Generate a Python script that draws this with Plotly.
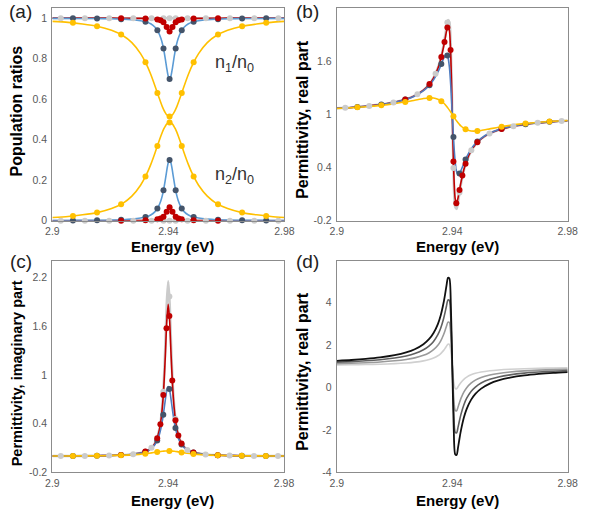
import plotly.graph_objects as go

# ---------------- energy grids (eV) ----------------
E_line = [2.9000, 2.9050, 2.9100, 2.9150, 2.9200, 2.9240, 2.9270, 2.9300, 2.9320, 2.9335,
          2.9350, 2.9360, 2.9370, 2.9375, 2.9380, 2.9385, 2.9390, 2.9395, 2.9400, 2.9405,
          2.9410, 2.9415, 2.9420, 2.9425, 2.9430, 2.9440, 2.9450, 2.9465, 2.9480, 2.9500,
          2.9530, 2.9560, 2.9600, 2.9650, 2.9700, 2.9750, 2.9800]
E_line_a = [2.9000, 2.9054, 2.9104, 2.9154, 2.9204, 2.9244, 2.9274, 2.9304, 2.9324, 2.9339,
            2.9354, 2.9364, 2.9374, 2.9379, 2.9384, 2.9389, 2.9394, 2.9399, 2.9404, 2.9409,
            2.9414, 2.9419, 2.9424, 2.9429, 2.9434, 2.9444, 2.9454, 2.9469, 2.9484, 2.9504,
            2.9534, 2.9564, 2.9604, 2.9654, 2.9704, 2.9754, 2.9800]
E_gray_edges = [2.9000, 2.9800]

E_dark = [2.9071, 2.9154, 2.9237, 2.9321, 2.9362, 2.9383, 2.9404, 2.9425, 2.9446, 2.9487, 2.9571, 2.9654, 2.9737]
E_red = [2.9237, 2.9321, 2.9362, 2.9373, 2.9383, 2.9394, 2.9404, 2.9414, 2.9425, 2.9435, 2.9446, 2.9487, 2.9571]
E_gray = [2.9029, 2.9112, 2.9196, 2.9279, 2.9342, 2.9383, 2.9404, 2.9425, 2.9466, 2.9529, 2.9612, 2.9696, 2.9779]
E_yel = [2.9071, 2.9154, 2.9237, 2.9321, 2.9362, 2.9404, 2.9446, 2.9487, 2.9571, 2.9654, 2.9737]

# ---------------- panel (a): population ratios ----------------
gray_a_up = [1.0, 1.0]
gray_a_lo = [0.0, 0.0]
yel_a_up = [0.984, 0.979, 0.971, 0.960, 0.940, 0.913, 0.879, 0.825, 0.773, 0.723, 0.664, 0.622, 0.582, 0.563, 0.547, 0.534, 0.523, 0.517, 0.515,
            0.517, 0.523, 0.534, 0.547, 0.563, 0.582, 0.622, 0.664, 0.723, 0.773, 0.825, 0.879, 0.913, 0.940, 0.960, 0.971, 0.979, 0.984]
yel_a_lo = [0.016, 0.021, 0.029, 0.040, 0.060, 0.087, 0.121, 0.175, 0.227, 0.277, 0.336, 0.378, 0.418, 0.437, 0.453, 0.466, 0.477, 0.483, 0.485,
            0.483, 0.477, 0.466, 0.453, 0.437, 0.418, 0.378, 0.336, 0.277, 0.227, 0.175, 0.121, 0.087, 0.060, 0.040, 0.029, 0.021, 0.016]
blue_a_up = [0.999, 0.999, 0.998, 0.998, 0.997, 0.995, 0.992, 0.987, 0.981, 0.972, 0.955, 0.935, 0.901, 0.876, 0.843, 0.801, 0.755, 0.716, 0.700,
             0.716, 0.755, 0.801, 0.843, 0.876, 0.901, 0.935, 0.955, 0.972, 0.981, 0.987, 0.992, 0.995, 0.997, 0.998, 0.998, 0.999, 0.999]
blue_a_lo = [0.001, 0.001, 0.002, 0.002, 0.003, 0.005, 0.008, 0.013, 0.019, 0.028, 0.045, 0.065, 0.099, 0.124, 0.157, 0.199, 0.245, 0.284, 0.300,
             0.284, 0.245, 0.199, 0.157, 0.124, 0.099, 0.065, 0.045, 0.028, 0.019, 0.013, 0.008, 0.005, 0.003, 0.002, 0.002, 0.001, 0.001]
red_a_up = [1.000, 1.000, 1.000, 1.000, 1.000, 0.999, 0.999, 0.999, 0.998, 0.997, 0.995, 0.993, 0.988, 0.984, 0.978, 0.969, 0.956, 0.941, 0.934,
            0.941, 0.956, 0.969, 0.978, 0.984, 0.988, 0.993, 0.995, 0.997, 0.998, 0.999, 0.999, 0.999, 1.000, 1.000, 1.000, 1.000, 1.000]
red_a_lo = [0.000, 0.000, 0.000, 0.000, 0.000, 0.001, 0.001, 0.001, 0.002, 0.003, 0.005, 0.007, 0.012, 0.016, 0.022, 0.031, 0.044, 0.059, 0.066,
            0.059, 0.044, 0.031, 0.022, 0.016, 0.012, 0.007, 0.005, 0.003, 0.002, 0.001, 0.001, 0.001, 0.000, 0.000, 0.000, 0.000, 0.000]

gray_mk_a_up = [1, 1, 1, 1, 1, 1, 1, 1, 1, 1, 1, 1, 1]
gray_mk_a_lo = [0, 0, 0, 0, 0, 0, 0, 0, 0, 0, 0, 0, 0]
blue_mk_a_up = [0.999, 0.998, 0.995, 0.982, 0.940, 0.850, 0.700, 0.850, 0.940, 0.982, 0.995, 0.998, 0.999]
blue_mk_a_lo = [0.001, 0.002, 0.005, 0.018, 0.060, 0.150, 0.300, 0.150, 0.060, 0.018, 0.005, 0.002, 0.001]
red_mk_a_up = [1.000, 0.998, 0.993, 0.989, 0.980, 0.956, 0.934, 0.956, 0.980, 0.989, 0.993, 0.998, 1.000]
red_mk_a_lo = [0.000, 0.002, 0.007, 0.011, 0.020, 0.044, 0.066, 0.044, 0.020, 0.011, 0.007, 0.002, 0.000]
yel_mk_a_up = [0.977, 0.960, 0.919, 0.782, 0.631, 0.515, 0.631, 0.782, 0.919, 0.960, 0.977]
yel_mk_a_lo = [0.023, 0.040, 0.081, 0.218, 0.369, 0.485, 0.369, 0.218, 0.081, 0.040, 0.023]

# ---------------- panel (b): permittivity, real part ----------------
gray_b = [1.070, 1.080, 1.093, 1.112, 1.139, 1.174, 1.213, 1.275, 1.341, 1.414, 1.525, 1.633, 1.786, 1.882, 1.984, 2.066, 2.041, 1.722, 1.000,
          0.278, -0.041, -0.066, 0.016, 0.118, 0.214, 0.367, 0.475, 0.586, 0.659, 0.725, 0.787, 0.826, 0.861, 0.888, 0.907, 0.920, 0.930]
red_b = [1.070, 1.080, 1.093, 1.112, 1.139, 1.174, 1.213, 1.275, 1.340, 1.412, 1.520, 1.624, 1.767, 1.854, 1.942, 2.001, 1.950, 1.638, 1.000,
         0.362, 0.050, -0.001, 0.058, 0.146, 0.233, 0.376, 0.480, 0.588, 0.660, 0.725, 0.787, 0.826, 0.861, 0.888, 0.907, 0.920, 0.930]
blue_b = [1.070, 1.080, 1.093, 1.111, 1.139, 1.172, 1.210, 1.269, 1.328, 1.392, 1.479, 1.553, 1.634, 1.667, 1.680, 1.647, 1.534, 1.312, 1.000,
          0.688, 0.466, 0.353, 0.320, 0.333, 0.366, 0.447, 0.521, 0.608, 0.672, 0.731, 0.790, 0.828, 0.861, 0.889, 0.907, 0.920, 0.930]
yel_b = [1.068, 1.077, 1.088, 1.103, 1.123, 1.144, 1.162, 1.180, 1.187, 1.186, 1.173, 1.156, 1.130, 1.113, 1.094, 1.072, 1.049, 1.025, 1.000,
         0.975, 0.951, 0.928, 0.906, 0.887, 0.870, 0.844, 0.827, 0.814, 0.813, 0.820, 0.838, 0.856, 0.877, 0.897, 0.912, 0.923, 0.932]

gray_mk_b = [1.075, 1.097, 1.137, 1.229, 1.460, 2.039, 0.395, 0.118, 0.597, 0.785, 0.868, 0.906, 0.926]
blue_mk_b = [1.085, 1.113, 1.169, 1.332, 1.570, 1.668, 0.745, 0.333, 0.493, 0.695, 0.839, 0.890, 0.917]
red_mk_b = [1.171, 1.344, 1.649, 1.819, 1.984, 1.729, 0.468, -0.004, 0.146, 0.310, 0.443, 0.686, 0.837]
yel_mk_b = [1.081, 1.104, 1.142, 1.187, 1.151, 0.980, 0.833, 0.815, 0.862, 0.899, 0.921]

# ---------------- panel (c): permittivity, imaginary part ----------------
gray_c = [0.002, 0.003, 0.004, 0.006, 0.009, 0.014, 0.021, 0.036, 0.055, 0.083, 0.136, 0.206, 0.341, 0.458, 0.640, 0.924, 1.353, 1.876, 2.154,
          1.876, 1.353, 0.924, 0.640, 0.458, 0.341, 0.206, 0.136, 0.083, 0.055, 0.036, 0.021, 0.014, 0.009, 0.006, 0.004, 0.003, 0.002]
red_c = [0.002, 0.003, 0.004, 0.006, 0.009, 0.014, 0.021, 0.036, 0.055, 0.082, 0.135, 0.203, 0.332, 0.444, 0.612, 0.868, 1.236, 1.658, 1.871,
         1.658, 1.236, 0.868, 0.612, 0.444, 0.332, 0.203, 0.135, 0.082, 0.055, 0.036, 0.021, 0.014, 0.009, 0.006, 0.004, 0.003, 0.002]
blue_c = [0.002, 0.003, 0.004, 0.006, 0.009, 0.014, 0.021, 0.035, 0.053, 0.078, 0.125, 0.180, 0.275, 0.347, 0.442, 0.561, 0.695, 0.811, 0.859,
          0.811, 0.695, 0.561, 0.442, 0.347, 0.275, 0.180, 0.125, 0.078, 0.053, 0.035, 0.021, 0.014, 0.009, 0.006, 0.004, 0.003, 0.002]
yel_c = [0.002, 0.003, 0.004, 0.005, 0.008, 0.012, 0.016, 0.023, 0.030, 0.037, 0.045, 0.051, 0.056, 0.059, 0.061, 0.063, 0.064, 0.065, 0.065,
         0.065, 0.064, 0.063, 0.061, 0.059, 0.056, 0.051, 0.045, 0.037, 0.030, 0.023, 0.016, 0.012, 0.008, 0.005, 0.004, 0.003, 0.002]

gray_mk_c = [0.003, 0.004, 0.009, 0.025, 0.103, 0.795, 1.968, 0.458, 0.078, 0.022, 0.008, 0.004, 0.003]
blue_mk_c = [0.003, 0.006, 0.014, 0.055, 0.195, 0.511, 0.827, 0.347, 0.143, 0.046, 0.012, 0.006, 0.003]
red_mk_c = [0.014, 0.057, 0.222, 0.394, 0.753, 1.578, 1.728, 0.932, 0.444, 0.256, 0.158, 0.047, 0.012]
yel_mk_c = [0.003, 0.006, 0.011, 0.031, 0.052, 0.065, 0.047, 0.028, 0.011, 0.005, 0.003]

# ---------------- panel (d): permittivity, real part (4 levels) ----------------
d_black = [1.255, 1.292, 1.343, 1.413, 1.518, 1.648, 1.798, 2.034, 2.283, 2.563, 2.985, 3.404, 4.001, 4.382, 4.801, 5.160, 5.127, 3.914, 0.990,
           -1.934, -3.147, -3.180, -2.821, -2.402, -2.021, -1.424, -1.005, -0.583, -0.303, -0.054, 0.182, 0.332, 0.462, 0.567, 0.637, 0.688, 0.725]
d_dark = [1.189, 1.217, 1.255, 1.307, 1.386, 1.484, 1.596, 1.773, 1.960, 2.169, 2.486, 2.801, 3.248, 3.534, 3.848, 4.118, 4.092, 3.183, 0.990,
          -1.203, -2.112, -2.138, -1.868, -1.554, -1.268, -0.821, -0.506, -0.189, 0.020, 0.207, 0.384, 0.496, 0.594, 0.673, 0.725, 0.763, 0.791]
d_mid = [1.122, 1.141, 1.166, 1.201, 1.254, 1.319, 1.394, 1.512, 1.637, 1.776, 1.988, 2.197, 2.495, 2.686, 2.896, 3.075, 3.058, 2.452, 0.990,
         -0.472, -1.078, -1.095, -0.916, -0.706, -0.515, -0.217, -0.008, 0.204, 0.343, 0.468, 0.586, 0.661, 0.726, 0.779, 0.814, 0.839, 0.858]
d_light = [1.056, 1.066, 1.079, 1.096, 1.122, 1.155, 1.193, 1.252, 1.315, 1.385, 1.491, 1.596, 1.746, 1.841, 1.946, 2.037, 2.028, 1.724, 0.990,
           0.256, -0.048, -0.057, 0.034, 0.139, 0.235, 0.384, 0.489, 0.596, 0.665, 0.728, 0.787, 0.825, 0.858, 0.884, 0.902, 0.914, 0.924]

# ---------------- tick labels / text ----------------
x_ticks = [2.9, 2.94, 2.98]
x_ticktext = ["2.9", "2.94", "2.98"]
ya_ticks = [0, 0.2, 0.4, 0.6, 0.8, 1]
ya_text = ["0", "0.2", "0.4", "0.6", "0.8", "1"]
yb_ticks = [-0.2, 0.4, 1, 1.6]
yb_text = ["-0.2", "0.4", "1", "1.6"]
yc_ticks = [-0.2, 0.4, 1, 1.6, 2.2]
yc_text = ["-0.2", "0.4", "1", "1.6", "2.2"]
yd_ticks = [-4, -2, 0, 2, 4]
yd_text = ["-4", "-2", "0", "2", "4"]

C_GRAY = "#cbcbcb"
C_RED = "#c00000"
C_BLUE = "#5b9bd5"
C_DARK = "#44546a"
C_YEL = "#ffc000"

FONT = "Liberation Sans, Arial, sans-serif"

fig = go.Figure()
AX = {"a": ("x", "y"), "b": ("x2", "y2"), "c": ("x3", "y3"), "d": ("x4", "y4")}


def line(p, x, y, color, width=1.6):
    xa, ya = AX[p]
    fig.add_trace(go.Scatter(x=x, y=y, mode="lines", xaxis=xa, yaxis=ya,
                             line=dict(color=color, width=width, shape="spline", smoothing=0.7),
                             hoverinfo="skip", showlegend=False))


def dots(p, x, y, color):
    xa, ya = AX[p]
    fig.add_trace(go.Scatter(x=x, y=y, mode="markers", xaxis=xa, yaxis=ya, cliponaxis=False,
                             marker=dict(color=color, size=6, line=dict(width=0)),
                             hoverinfo="skip", showlegend=False))


# (a)
line("a", E_gray_edges, gray_a_up, C_GRAY, 2.2)
line("a", E_gray_edges, gray_a_lo, C_GRAY, 2.2)
line("a", E_line_a, red_a_up, C_RED)
line("a", E_line_a, red_a_lo, C_RED)
line("a", E_line_a, blue_a_up, C_BLUE)
line("a", E_line_a, blue_a_lo, C_BLUE)
line("a", E_line_a, yel_a_up, C_YEL)
line("a", E_line_a, yel_a_lo, C_YEL)
dots("a", E_gray, gray_mk_a_up, C_GRAY)
dots("a", E_gray, gray_mk_a_lo, C_GRAY)
dots("a", E_dark, blue_mk_a_up, C_DARK)
dots("a", E_dark, blue_mk_a_lo, C_DARK)
dots("a", E_red, red_mk_a_up, C_RED)
dots("a", E_red, red_mk_a_lo, C_RED)
dots("a", E_yel, yel_mk_a_up, C_YEL)
dots("a", E_yel, yel_mk_a_lo, C_YEL)

# (b)
line("b", E_line, gray_b, C_GRAY, 2.6)
line("b", E_line, red_b, C_RED)
line("b", E_line, blue_b, "#4f7cc0")
line("b", E_line, yel_b, C_YEL)
dots("b", E_gray, gray_mk_b, C_GRAY)
dots("b", E_dark, blue_mk_b, C_DARK)
dots("b", E_red, red_mk_b, C_RED)
dots("b", E_yel, yel_mk_b, C_YEL)

# (c)
line("c", E_line, gray_c, C_GRAY, 2.6)
line("c", E_line, red_c, C_RED)
line("c", E_line, blue_c, "#4f7cc0")
line("c", E_line, yel_c, C_YEL)
dots("c", E_gray, gray_mk_c, C_GRAY)
dots("c", E_dark, blue_mk_c, C_DARK)
dots("c", E_red, red_mk_c, C_RED)
dots("c", E_yel, yel_mk_c, C_YEL)

# (d)
line("d", E_line, d_light, "#d0d0d0", 1.6)
line("d", E_line, d_mid, "#9a9a9a", 1.6)
line("d", E_line, d_dark, "#606060", 1.6)
line("d", E_line, d_black, "#111111", 1.8)

W, H = 590, 516
pa = dict(x0=46.7, x1=285.7, y0=7.7, y1=223.3)
pb = dict(x0=339.7, x1=577.3, y0=7.7, y1=223.3)
pc = dict(x0=46.7, x1=285.3, y0=263.7, y1=478.0)
pd = dict(x0=339.7, x1=577.3, y0=263.7, y1=478.0)


def xdom(p):
    return [p["x0"] / W, p["x1"] / W]


def ydom(p):
    return [1 - p["y1"] / H, 1 - p["y0"] / H]


def xaxis(p, anchor):
    return dict(domain=xdom(p), anchor=anchor, range=[2.9, 2.98], tickvals=x_ticks, ticktext=x_ticktext,
                showgrid=False, zeroline=False, showline=True, mirror=True, linecolor="#8c8c8c", linewidth=1.2,
                ticks="", ticklabelstandoff=1,
                tickfont=dict(family=FONT, size=10.5, color="#595959"), fixedrange=True)


def yaxis(p, anchor, rng, tv, tt):
    return dict(domain=ydom(p), anchor=anchor, range=rng, tickvals=tv, ticktext=tt,
                showgrid=False, zeroline=False, showline=True, mirror=True, linecolor="#8c8c8c", linewidth=1.2,
                ticks="", ticklabelstandoff=2,
                tickfont=dict(family=FONT, size=10.5, color="#595959"), fixedrange=True)


fig.update_layout(
    width=W, height=H, margin=dict(l=0, r=0, t=0, b=0),
    paper_bgcolor="white", plot_bgcolor="white", showlegend=False,
    font=dict(family=FONT),
    xaxis=xaxis(pa, "y"), yaxis=yaxis(pa, "x", [0, 1.052], ya_ticks, ya_text),
    xaxis2=xaxis(pb, "y2"), yaxis2=yaxis(pb, "x2", [-0.2, 2.208], yb_ticks, yb_text),
    xaxis3=xaxis(pc, "y3"), yaxis3=yaxis(pc, "x3", [-0.2, 2.41], yc_ticks, yc_text),
    xaxis4=xaxis(pd, "y4"), yaxis4=yaxis(pd, "x4", [-4, 5.97], yd_ticks, yd_text),
)


def ann(text, x, y, size, bold=False, angle=0, color="#000000"):
    fig.add_annotation(text=("<b>%s</b>" % text) if bold else text, x=x / W, y=1 - y / H,
                       xref="paper", yref="paper", xanchor="center", yanchor="middle",
                       showarrow=False, textangle=angle, font=dict(family=FONT, size=size, color=color))


# panel letters
ann("(a)", 14, 12, 19, color="#222222")
ann("(b)", 309, 12, 19, color="#222222")
ann("(c)", 14, 265, 19, color="#222222")
ann("(d)", 309, 265, 19, color="#222222")

# axis titles
ann("Energy (eV)", 170, 249, 15, bold=True)
ann("Energy (eV)", 464, 249, 15, bold=True)
ann("Energy (eV)", 170, 506, 15, bold=True)
ann("Energy (eV)", 464, 506, 15, bold=True)
ann("Population ratios", 10, 112, 16, bold=True, angle=-90)
ann("Permittivity, real part", 304, 121, 16, bold=True, angle=-90)
ann("Permittivity, imaginary part", 10, 378, 14.5, bold=True, angle=-90)
ann("Permittivity, real part", 304, 376, 16, bold=True, angle=-90)

# n-ratio labels
ann("n<sub>1</sub>/n<sub>0</sub>", 234, 64, 18, color="#333333")
ann("n<sub>2</sub>/n<sub>0</sub>", 234, 178, 18, color="#333333")

fig.write_html("out.html")
